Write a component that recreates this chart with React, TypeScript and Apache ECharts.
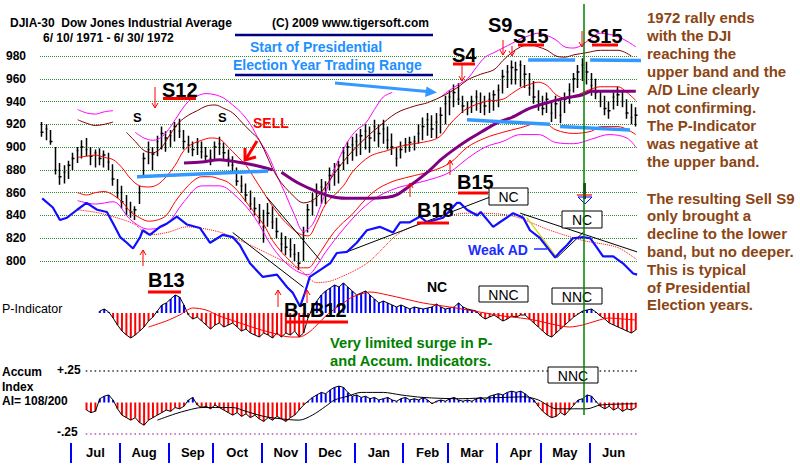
import React, { useEffect, useRef } from "react";
import * as echarts from "echarts";

const FF = '"Liberation Sans", Arial, sans-serif';
const FN = '"Liberation Sans"';

// ---------------- data ----------------
const MONTHS = ["Jul", "Aug", "Sep", "Oct", "Nov", "Dec", "Jan", "Feb", "Mar", "Apr", "May", "Jun"];
// bars per month (first entry = partial June 1971), 2 trading days per bar
const MONTH_BARS = [7, 11, 11, 10, 11, 10, 11, 11, 10, 11, 10, 11, 11];

const HIGH = [
  922, 920, 915, 900, 886, 884, 888, 895, 900, 906,
  908, 900, 898, 899, 897, 895, 885, 872, 866, 858,
  852, 848, 866, 895, 905, 900, 910, 918, 914, 915,
  922, 925, 915, 910, 905, 908, 905, 900, 898, 905,
  909, 904, 898, 892, 882, 875, 868, 862, 856, 850,
  845, 851, 848, 838, 825, 822, 820, 815, 808, 830,
  850, 860, 868, 872, 870, 882, 886, 888, 900, 905,
  909, 912, 916, 920, 918, 924, 920, 924, 918, 912,
  900, 905, 908, 909, 910, 920, 926, 930, 928, 930,
  935, 945, 950, 955, 956, 945, 940, 945, 950, 948,
  945, 948, 950, 955, 968, 972, 976, 975, 976, 972,
  965, 958, 950, 945, 948, 940, 945, 943, 948, 956,
  965, 972, 978, 975, 965, 960, 950, 945, 940, 948,
  953, 950, 942, 938, 935,
];
const LOW = [
  909, 906, 902, 876, 867, 868, 872, 880, 886, 890,
  892, 884, 882, 884, 882, 880, 866, 855, 846, 840,
  838, 836, 850, 875, 885, 880, 892, 898, 896, 900,
  905, 908, 898, 895, 892, 893, 890, 886, 884, 888,
  893, 888, 883, 878, 866, 860, 852, 845, 840, 833,
  816, 830, 828, 820, 808, 805, 803, 800, 792, 800,
  825, 840, 848, 850, 850, 862, 866, 868, 880, 885,
  888, 892, 893, 898, 895, 905, 900, 903, 898, 893,
  883, 890, 895, 896, 897, 903, 906, 910, 908, 908,
  912, 920, 928, 935, 937, 930, 928, 930, 932, 930,
  928, 930, 932, 935, 947, 952, 955, 955, 953, 952,
  945, 938, 932, 928, 930, 922, 925, 921, 930, 938,
  948, 952, 958, 955, 945, 942, 935, 928, 925, 933,
  936, 935, 925, 920, 918,
];
const CLOSE = [
  913, 916, 905, 880, 874, 878, 884, 890, 897, 900,
  898, 892, 895, 890, 893, 887, 872, 860, 852, 846,
  843, 845, 860, 890, 898, 894, 905, 912, 908, 910,
  918, 914, 905, 902, 898, 904, 896, 892, 890, 900,
  903, 895, 890, 884, 870, 866, 858, 850, 846, 838,
  830, 842, 834, 826, 815, 812, 810, 806, 798, 825,
  845, 852, 860, 865, 858, 875, 880, 884, 895, 900,
  902, 905, 910, 914, 908, 918, 912, 916, 906, 900,
  890, 898, 902, 904, 905, 912, 918, 924, 916, 922,
  928, 938, 944, 948, 942, 936, 934, 940, 944, 938,
  936, 942, 946, 950, 962, 966, 970, 968, 972, 964,
  952, 944, 940, 934, 942, 930, 938, 928, 942, 950,
  960, 966, 972, 966, 954, 948, 940, 934, 932, 944,
  946, 940, 930, 926, 928,
];

// band lines, [bar, value]
const MAG_UP_A = [[8, 933], [10, 930], [12, 929], [14, 931], [16, 932]];
const MAG_UP_B = [[21, 913], [23, 908], [25, 906], [27, 909], [29, 918], [31, 930], [33, 940], [35, 945], [37, 947], [39, 946], [41, 943], [43, 937], [45, 930], [47, 920], [49, 906], [51, 893], [53, 875], [55, 858], [57, 840], [59, 826], [61, 832], [63, 850], [65, 871], [67, 890], [69, 905], [71, 915], [73, 921], [75, 933], [77, 944], [79, 948]];
const MAG_UP_C = [[90, 944], [92, 950], [94, 955], [96, 960], [98, 970], [100, 979], [102, 983], [104, 987], [106, 991], [108, 995], [110, 998], [112, 1000], [114, 998], [116, 994], [118, 988], [120, 987], [122, 990], [124, 996], [126, 1000], [128, 999], [130, 997], [132, 993], [134, 988]];
const MAROON_A = [[8, 924], [10, 921], [12, 919], [14, 920], [16, 922]];
const MAROON_B = [[19, 913], [21, 905], [23, 897], [25, 895], [27, 900], [29, 912], [31, 922], [33, 928], [35, 932], [37, 936], [39, 937], [41, 934], [43, 930], [45, 922], [47, 914], [49, 906], [53, 874], [57, 856], [59, 851], [62, 856], [66, 877], [69, 892], [73, 908], [76, 918], [80, 930], [84, 936], [87, 939], [91, 946], [94, 953], [96, 959], [99, 964], [102, 968], [104, 976], [106, 983], [108, 988], [110, 990], [112, 988], [114, 985], [116, 980], [118, 979], [120, 981], [123, 983], [126, 985], [130, 985], [133, 980]];
const RED_MID = [[8, 891], [10, 892], [12, 893], [14, 891], [16, 889], [18, 882], [20, 872], [22, 866], [24, 865], [26, 867], [28, 874], [30, 884], [32, 897], [34, 903], [36, 906], [38, 908], [40, 907], [42, 900], [44, 892], [46, 884], [48, 872], [50, 860], [52, 848], [54, 838], [56, 830], [58, 824], [60, 822], [62, 834], [64, 850], [66, 858], [68, 866], [70, 878], [72, 886], [74, 892], [76, 895], [78, 897], [80, 900], [84, 903], [88, 906], [90, 910], [92, 920], [94, 928], [96, 934], [100, 940], [104, 942], [106, 947], [108, 952], [110, 955], [112, 957], [114, 954], [116, 946], [118, 943], [120, 944], [122, 948], [124, 951], [126, 953], [128, 953], [130, 953], [132, 948], [134, 941]];
const RED_LOW = [[8, 860], [10, 858], [12, 860], [14, 861], [16, 858], [18, 852], [20, 843], [22, 838], [24, 835], [26, 836], [28, 840], [30, 852], [32, 862], [34, 870], [36, 874], [38, 874], [40, 872], [42, 869], [44, 862], [46, 852], [48, 842], [50, 832], [52, 818], [54, 808], [56, 800], [58, 794], [60, 794], [62, 803], [64, 815], [66, 826], [68, 834], [70, 841], [72, 850], [74, 858], [76, 864], [78, 868], [80, 871], [84, 875], [88, 879], [92, 886], [96, 900], [100, 908], [104, 913], [108, 917], [112, 921], [114, 920], [116, 915], [120, 912], [124, 914], [126, 918], [130, 918], [134, 911]];
const MAG_LOW = [[8, 853], [12, 850], [16, 852], [20, 836], [24, 828], [28, 832], [32, 852], [36, 866], [40, 866], [44, 856], [48, 838], [52, 812], [56, 795], [60, 788], [62, 796], [64, 808], [68, 828], [72, 845], [76, 857], [80, 864], [84, 868], [88, 872], [92, 878], [96, 890], [100, 900], [104, 905], [108, 911], [112, 911], [116, 904], [120, 903], [124, 907], [128, 911], [132, 908], [134, 900]];
const PURPLE_A = [[32, 886], [36, 887], [40, 889], [44, 887], [48, 884], [52, 880]];
const PURPLE_B = [[54, 878], [58, 868], [62, 861], [66, 856], [70, 855], [74, 855], [78, 856], [80, 858], [83, 866], [87, 878], [90, 889], [93, 898], [96, 906], [99, 913], [103, 922], [106, 926], [110, 934], [114, 939], [118, 943], [122, 946], [124, 949], [134, 949]];

// advance/decline line (drawn on the price scale) and its red dotted average
const AD_LINE = [[0, 855], [2.4, 847], [4, 836], [5.6, 838], [7.9, 845], [10, 851], [12.4, 845], [14.6, 843], [16.4, 830], [17.6, 821], [19.1, 816], [20.5, 811], [22.1, 821], [22.7, 827], [24.3, 823], [26.6, 830], [28.2, 833], [30.4, 839], [32.7, 832], [35.6, 829], [37.9, 816], [40.8, 823], [43, 821], [44.6, 814], [46.9, 798], [49.8, 786], [53, 788], [55.3, 777], [56.6, 772], [58.2, 760], [59.3, 772], [60.4, 786], [62.7, 792], [65, 798], [66.5, 807], [68.8, 808], [71, 816], [73.3, 827], [76.2, 830], [79.2, 825], [80.8, 834], [83, 834], [85.3, 839], [86.9, 834], [90.5, 838], [93.6, 851], [94.3, 851], [95.9, 845], [98.2, 840], [99, 843], [101.8, 830], [103.3, 834], [105.6, 840], [106.3, 842], [108.6, 838], [110.1, 827], [112.4, 820], [114, 812], [115.8, 803], [116.9, 808], [118.5, 814], [119.8, 820], [122.1, 821], [123.7, 820], [125.2, 812], [126.6, 804], [128.9, 804], [131.1, 798], [133.4, 789], [134.3, 788]];
const AD_AVG = [[8, 845], [13, 842], [20.5, 833], [24.3, 823], [28.2, 825], [32.7, 830], [39.5, 826], [43, 821], [50.7, 807], [58.2, 792], [62, 781], [65.6, 783], [73.3, 798], [80.8, 825], [88.2, 836], [95.9, 842], [105.6, 840], [114.6, 827], [122.1, 818], [129.8, 812], [134.3, 801]];

// trend lines and support / resistance lines
const TRENDS = [
  [[43, 825], [59, 777]],
  [[50.7, 856], [62.7, 801]],
  [[68.8, 808], [101, 856]],
  [[107.9, 842], [134.3, 808]],
  [[116.2, 803], [122.1, 825]],
];
const YELLOW_TREND = [[109.4, 838], [116.2, 803]];
const SUPPORT = [
  [[21.4, 874], [51, 879]],
  [[95.9, 924], [114.6, 920]],
  [[116.9, 918], [132.7, 915]],
  [[109.7, 976.5], [120.3, 976.5]],
  [[123.7, 976.5], [136.5, 976]],
];

// P-Indicator (histogram) and its red average
const P_IND = [
  null, null, null, null, null, null, null, null, null, null,
  null, null, null, 2, 4, 1, -5, -12, -18, -22,
  -25, -22, -18, -14, -8, -4, 2, 8, 10, 14,
  18, 16, 8, -2, -6, -4, -8, -12, -16, -12,
  -10, -14, -12, -10, -14, -18, -16, -20, -22, -24,
  -20, -22, -25, -20, -24, -20, -22, -18, -24, -20,
  -5, 5, 12, 18, 22, 25, 28, 26, 30, 26,
  22, 18, 20, 22, 18, 14, 10, 12, 10, 8,
  6, 8, 6, 4, 6, 5, 4, 5, 6, 9,
  6, 4, 5, 6, 10, 6, 4, 3, 2, -3,
  -6, -4, -2, -5, -8, -6, -3, -4, -2, -2,
  -6, -10, -14, -18, -22, -24, -20, -16, -12, -8,
  -4, -1, 2, 3, 4, 1, -3, -6, -10, -12,
  -14, -16, -18, -20, -17,
];
const P_AVG = [[24, -14], [28, -8], [31, -2], [34, 5], [37, 3], [40, -3], [44, -9], [48, -15], [52, -20], [56, -24], [58, -24], [60, -20], [62, -12], [64, -3], [66, 4], [68, 10], [70, 16], [72, 19], [74, 21], [78, 18], [82, 14], [86, 10], [92, 6], [96, 3], [100, 0], [104, -3], [108, -5], [111, -7], [115, -11], [119, -14], [122, -12], [125, -8], [128, -5], [131, -6], [134, -7]];

// Accumulation Index and its black average
const ACCUM = [
  null, null, null, null, null, null, null, null, null, null,
  -0.06, -0.08, -0.07, 0.03, 0.05, 0.06, 0.02, -0.05, -0.1, -0.12,
  -0.14, -0.12, -0.16, -0.18, -0.14, -0.12, -0.1, -0.08, -0.06, -0.07,
  -0.04, -0.05, -0.03, 0.02, 0.04, -0.02, -0.04, -0.03, -0.05, -0.02,
  -0.04, -0.06, -0.08, -0.1, -0.08, -0.11, -0.09, -0.12, -0.1, -0.13,
  -0.15, -0.12, -0.14, -0.11, -0.13, -0.15, -0.12, -0.1, -0.06, -0.02,
  0.01, 0.04, 0.06, 0.08, 0.07, 0.1, 0.12, 0.13, 0.12, 0.08,
  0.05, 0.06, 0.04, 0.05, 0.03, 0.04, 0.02, 0.03, 0.04, 0.02,
  0.01, 0.03, 0.04, 0.02, 0.03, 0.02, 0.04, 0.02, -0.01, 0.01,
  0.02, 0.01, 0.03, 0.04, 0.02, 0.01, 0.02, 0.01, 0.03, 0.04,
  0.02, 0.05, 0.06, 0.07, 0.06, 0.08, 0.09, 0.08, 0.09, 0.07,
  0.04, 0.02, -0.03, -0.07, -0.1, -0.12, -0.11, -0.08, -0.1, -0.06,
  -0.02, 0.02, 0.03, 0.06, 0.05, 0.01, -0.03, -0.05, -0.03, -0.06,
  -0.04, -0.07, -0.05, -0.06, -0.04,
];
const ACCUM_AVG = [[26, -0.14], [30, -0.09], [33, -0.06], [36, -0.04], [40, -0.04], [43, -0.04], [46, -0.07], [50, -0.11], [54, -0.13], [58, -0.14], [61, -0.1], [64, -0.03], [66, 0.02], [69, 0.05], [72, 0.08], [77, 0.08], [81, 0.06], [86, 0.04], [94, 0.03], [99, 0.035], [104, 0.04], [109, 0.045], [112, 0.02], [114, -0.02], [116, -0.05], [120, -0.05], [123, -0.05], [126, -0.02], [134, -0.01]];
const ACCUM_LEVELS = [0.25, -0.25];

const RIGHT_NOTE_1 = ["1972 rally ends", "with the DJI", "reaching the", "upper band and the", "A/D Line clearly", "not confirming.", "The P-Indicator", "was negative at", "the upper band."];
const RIGHT_NOTE_2 = ["The resulting Sell S9", "only brought a", "decline to the lower", "band, but no deeper.", "This is typical", "of Presidential", "Election years."];

// ---------------- helpers ----------------
const N = CLOSE.length;
const CATS = Array.from({ length: N }, (_, i) => String(i));
const monthStarts: number[] = [];
{
  let s = 0;
  MONTH_BARS.forEach((c) => { monthStarts.push(s); s += c; });
}
const MONTH_LABELS = CATS.map(() => "");
MONTHS.forEach((m, k) => { MONTH_LABELS[monthStarts[k + 1] + 5] = m; });

function txt(text: string, x: number, y: number, font: string, fill = "#000", align = "left", z = 100) {
  return {
    type: "text", x, y, z, silent: true,
    style: { text, font, fill, align, verticalAlign: "middle", textAlign: align, textVerticalAlign: "middle" },
  };
}
function ln(x1: number, y1: number, x2: number, y2: number, stroke: string, lineWidth = 1, z = 100) {
  return { type: "line", z, silent: true, shape: { x1, y1, x2, y2 }, style: { stroke, lineWidth } };
}
function arrowV(x: number, yFrom: number, yTo: number, color: string, w = 1) {
  const d = yTo > yFrom ? 1 : -1;
  return [
    ln(x, yFrom, x, yTo, color, w),
    { type: "polyline", z: 100, silent: true, shape: { points: [[x - 3, yTo - 5 * d], [x, yTo], [x + 3, yTo - 5 * d]] }, style: { stroke: color, lineWidth: w, fill: "none" } },
  ];
}
function box(text: string, x: number, y: number, w: number, h: number) {
  return [
    { type: "rect", z: 100, silent: true, shape: { x, y, width: w, height: h }, style: { fill: "#fff", stroke: "#000", lineWidth: 1 } },
    txt(text, x + w / 2, y + h / 2 + 0.5, `14px ${FN}`, "#000", "center", 101),
  ];
}

function buildOption() {
  const BIG = `bold 20px ${FN}`;
  const RED = "#ff0000";
  const G: any[] = [
    txt("DJIA-30  Dow Jones Industrial Average", 10, 23, `bold 12px ${FN}`),
    txt("(C) 2009 www.tigersoft.com", 272, 23, `bold 12px ${FN}`),
    txt("6/ 10/ 1971 - 6/ 30/ 1972", 43, 38, `bold 12px ${FN}`),
    ln(235, 35, 433, 35, "#000080", 2.5),
    ln(235, 75, 433, 75, "#000080", 2.5),
    txt("Start of Presidential", 250, 47, `bold 14px ${FN}`, "#1e90ff"),
    txt("Election Year Trading Range", 233, 64.5, `bold 14px ${FN}`, "#1e90ff"),
    ln(335, 83, 427, 91.5, "#3399ff", 3),
    { type: "polygon", z: 100, silent: true, shape: { points: [[437, 92.5], [425, 97], [426.5, 86.5]] }, style: { fill: "#3399ff" } },

    txt("S12", 162, 90, BIG), ln(163, 98.5, 196, 98.5, RED, 3),
    ...arrowV(155, 87, 108, RED),
    txt("S", 133, 117, `bold 13px ${FN}`), txt("S", 218, 117, `bold 13px ${FN}`),
    txt("SELL", 253, 123, `bold 14px ${FN}`, RED),
    ln(257, 141, 246, 159, RED, 3),
    { type: "polyline", z: 100, silent: true, shape: { points: [[245, 148], [245, 160], [256, 157]] }, style: { stroke: RED, lineWidth: 3, fill: "none" } },

    txt("S4", 452, 55, BIG), ln(453, 64, 475, 64, RED, 3),
    ...arrowV(462, 64, 81, RED),
    txt("S9", 488, 25, BIG), txt("S15", 513, 36, BIG), ln(518, 45, 544, 45, RED, 3),
    ...arrowV(503, 40, 55, RED), ...arrowV(512, 46, 56, RED),
    txt("S15", 587, 36, BIG), ln(592, 45, 618, 45, RED, 3),
    ...arrowV(582, 31, 47, RED),

    txt("B13", 148, 280, BIG), ln(148, 292, 181, 292, RED, 3),
    ...arrowV(143, 266, 250, RED),
    txt("B1", 284, 310, BIG), txt("B12", 310, 310, BIG), ln(285, 322, 348, 322, RED, 3),
    ...arrowV(278, 307, 290, RED), ...arrowV(307, 303, 290, RED),
    txt("B18", 417, 210, BIG), ln(417, 223, 449, 223, RED, 3),
    txt("B15", 457, 182, BIG), ln(458, 193, 488, 193, RED, 3),
    ...arrowV(410, 197, 183, RED), ...arrowV(450, 175, 160, RED),

    ...box("NC", 489, 188, 39, 17),
    ...box("NC", 562, 211, 40, 17),
    txt("Weak AD", 468, 250, `bold 14px ${FN}`, "#1a2cff"),
    ln(534, 249, 547, 249, "#1a2cff", 1.5),
    txt("NC", 427, 287, `bold 14px ${FN}`),
    ...box("NNC", 479, 286, 49, 16),
    ...box("NNC", 552, 288, 50, 16),
    ...box("NNC", 548, 367, 50, 16),
    ln(584.5, 183, 584.5, 199, "#000", 2.5),
    ln(577, 195, 592, 195, RED, 1.2),
    { type: "polygon", z: 100, silent: true, shape: { points: [[578, 197], [592, 197], [585, 204]] }, style: { fill: "none", stroke: "#0000ff", lineWidth: 1 } },

    txt("Very limited surge in P-", 330, 343, `bold 14.7px ${FN}`, "#008000"),
    txt("and Accum. Indicators.", 330, 361, `bold 14.7px ${FN}`, "#008000"),

    txt("P-Indicator", 2, 309, `12.5px ${FN}`),
    txt("Accum", 2, 372, `bold 12px ${FN}`),
    txt("Index", 2, 386.5, `bold 12px ${FN}`),
    txt("AI= 108/200", 2, 400.5, `bold 12px ${FN}`),
    txt("+.25", 57, 370, `bold 12px ${FN}`),
    txt("-.25", 57, 432, `bold 12px ${FN}`),

    ln(584, 4, 584, 415, "#008000", 1.5, 105),
  ];
  RIGHT_NOTE_1.forEach((t, k) => G.push(txt(t, 647, 17.5 + 18 * k, `bold 15px ${FN}`, "#8b4513")));
  RIGHT_NOTE_2.forEach((t, k) => G.push(txt(t, 647, 198 + 17.8 * k, `bold 15px ${FN}`, "#8b4513")));

  const line = (data: any, color: string, width: number, extra: any = {}) => ({
    type: "line", xAxisIndex: 1, yAxisIndex: 0, data, symbol: "none", showSymbol: false,
    clip: false, silent: true, lineStyle: { color, width }, z: 3, ...extra,
  });
  const band = (data: any, color: string) => line(data, color, 1, { smooth: 0.35 });

  const series: any[] = [
    {
      type: "candlestick", xAxisIndex: 0, yAxisIndex: 0, silent: true, barWidth: 3, z: 2,
      data: CLOSE.map((c, i) => [c, c, LOW[i], HIGH[i]]),
      itemStyle: { color: "#000", color0: "#000", borderColor: "#000", borderColor0: "#000", borderWidth: 1.5 },
    },
    band(MAG_UP_A, "#ff00ff"), band(MAG_UP_B, "#ff00ff"), band(MAG_UP_C, "#ff00ff"),
    band(MAROON_A, "#800000"), band(MAROON_B, "#800000"),
    band(RED_MID, "#ff0000"), band(RED_LOW, "#ff0000"), band(MAG_LOW, "#ff00ff"),
    line(PURPLE_A, "#800080", 3, { smooth: 0.3, z: 4 }),
    line(PURPLE_B, "#800080", 3, { smooth: 0.3, z: 4 }),
    ...SUPPORT.map((s) => line(s, "#3399ff", 3.5, { z: 4 })),
    line(AD_AVG, "#ff0000", 1, { smooth: 0.3, lineStyle: { color: "#ff0000", width: 1, type: "dotted" } }),
    ...TRENDS.map((s) => line(s, "#000", 1, { z: 5 })),
    line(YELLOW_TREND, "#d4d400", 1.2, { z: 5 }),
    line(AD_LINE, "#1010ff", 2.2, { z: 6 }),

    {
      type: "bar", xAxisIndex: 2, yAxisIndex: 1, data: P_IND, barWidth: 2, silent: true,
      itemStyle: { color: (p: any) => (p.value >= 0 ? "#0000ff" : "#ff0000") },
    },
    { type: "line", xAxisIndex: 2, yAxisIndex: 1, data: P_IND, symbol: "none", silent: true, lineStyle: { color: "#000", width: 1 }, z: 3 },
    { type: "line", xAxisIndex: 3, yAxisIndex: 1, data: P_AVG, symbol: "none", silent: true, smooth: 0.3, lineStyle: { color: "#ff0000", width: 1 }, z: 4 },

    {
      type: "bar", xAxisIndex: 4, yAxisIndex: 2, data: ACCUM, barWidth: 2, silent: true,
      itemStyle: { color: (p: any) => (p.value >= 0 ? "#0000ff" : "#ff0000") },
    },
    { type: "line", xAxisIndex: 4, yAxisIndex: 2, data: ACCUM, symbol: "none", silent: true, lineStyle: { color: "#000", width: 1 }, z: 3 },
    { type: "line", xAxisIndex: 5, yAxisIndex: 2, data: ACCUM_AVG, symbol: "none", silent: true, smooth: 0.3, lineStyle: { color: "#000", width: 1 }, z: 4 },
    // +.25 / -.25 levels drawn as rows of dots, one per bar
    ...ACCUM_LEVELS.map((v, k) => ({
      type: "scatter", xAxisIndex: 4, yAxisIndex: 2, silent: true, clip: false, z: 6,
      symbol: "rect", symbolSize: [1.6, 1.6],
      itemStyle: { color: k === 0 ? "#111111" : "#a040a0" },
      data: CATS.map((c, i) => (i >= 10 ? v : null)),
    })),
    {
      type: "line", xAxisIndex: 7, yAxisIndex: 3, data: [[0, 0]], symbol: "none", silent: true, lineStyle: { opacity: 0 },
      markLine: {
        silent: true, symbol: ["none", "none"], label: { show: false }, animation: false,
        lineStyle: { color: "#0000ff", width: 2, type: "solid" },
        data: monthStarts.slice(1).map((s) => ({ xAxis: s - 0.5 })),
      },
    },
  ];

  const hiddenCat = (gridIndex: number) => ({ type: "category", gridIndex, data: CATS, show: false });
  const hiddenVal = (gridIndex: number) => ({ type: "value", gridIndex, min: -0.5, max: N - 0.5, show: false });

  return {
    animation: false,
    backgroundColor: "#ffffff",
    textStyle: { fontFamily: FF },
    grid: [
      { left: 40, top: 56, width: 598, height: 205 },
      { left: 40, top: 283, width: 598, height: 60 },
      { left: 40, top: 371, width: 598, height: 63 },
      { left: 40, top: 443, width: 598, height: 20 },
    ],
    xAxis: [
      hiddenCat(0), hiddenVal(0), hiddenCat(1), hiddenVal(1), hiddenCat(2), hiddenVal(2),
      {
        type: "category", gridIndex: 3, data: MONTH_LABELS,
        axisLine: { show: false }, axisTick: { show: false }, splitLine: { show: false },
        axisLabel: { interval: 0, inside: true, margin: 4, color: "#000", fontWeight: "bold", fontSize: 13, fontFamily: FF },
      },
      hiddenVal(3),
    ],
    yAxis: [
      {
        type: "value", gridIndex: 0, min: 800, max: 980, interval: 20,
        axisLine: { show: false }, axisTick: { show: false },
        axisLabel: { color: "#000", fontWeight: "bold", fontSize: 12, margin: 14, fontFamily: FF },
        splitLine: { lineStyle: { color: "#2f8f2f", type: "dotted", width: 1 } },
      },
      { type: "value", gridIndex: 1, min: -30, max: 30, show: false, splitLine: { show: false } },
      { type: "value", gridIndex: 2, min: -0.25, max: 0.25, show: false, splitLine: { show: false } },
      { type: "value", gridIndex: 3, min: 0, max: 1, show: false, splitLine: { show: false } },
    ],
    series,
    graphic: { elements: G },
  };
}

export default function App() {
  const ref = useRef<HTMLDivElement>(null);
  useEffect(() => {
    if (!ref.current) return;
    const chart = echarts.init(ref.current, null, { renderer: "svg" });
    chart.setOption(buildOption() as any);
    return () => chart.dispose();
  }, []);
  return <div ref={ref} style={{ position: "fixed", left: 0, top: 0, width: 800, height: 465, background: "#fff" }} />;
}
